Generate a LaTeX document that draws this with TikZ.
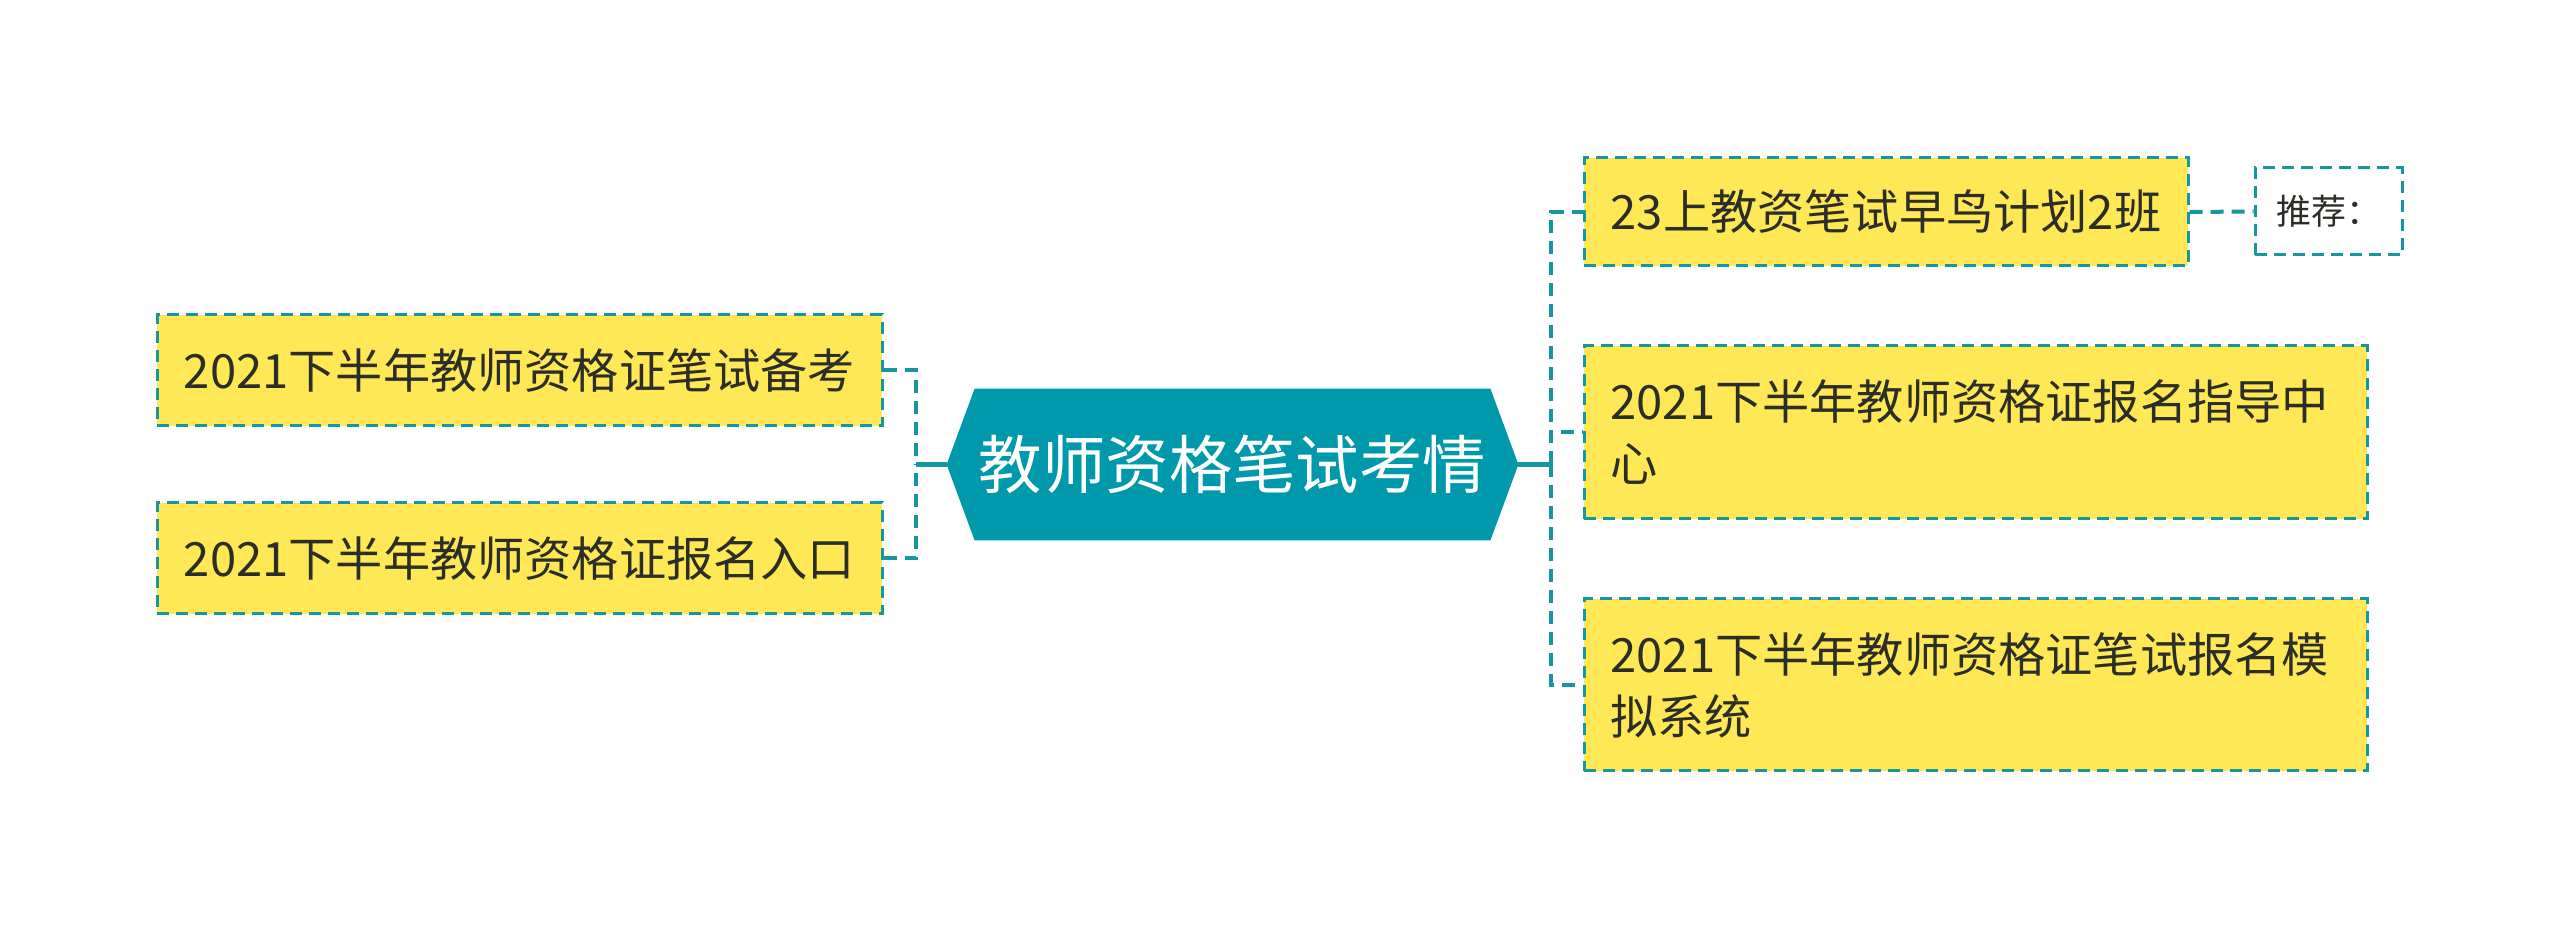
\documentclass[tikz,border=0pt]{standalone}
\usepackage{fontspec}
\setmainfont{Noto Sans CJK SC}
\usetikzlibrary{calc}
\pgfdeclarelayer{bg}
\pgfsetlayers{bg,main}
\definecolor{hexfill}{RGB}{0,153,172}
\definecolor{linecol}{RGB}{24,150,160}
\definecolor{boxfill}{RGB}{255,232,86}
\definecolor{txt}{RGB}{45,45,40}
\begin{document}
\begin{tikzpicture}[x=0.5pt,y=-0.5pt,
  box/.style={draw=linecol, fill=boxfill, line width=1.5pt, dash pattern=on 6pt off 3.5pt,
    inner sep=0pt, text=txt, font=\fontsize{23.6}{31}\selectfont},
  tagbox/.style={draw=linecol, fill=white, line width=1.5pt, dash pattern=on 6pt off 3.5pt,
    inner sep=0pt, text=txt, font=\fontsize{17.5}{22}\selectfont,
    minimum width=73.5pt, minimum height=43.5pt},
  hexnode/.style={inner sep=0pt, text=white, font=\fontsize{31.7}{36}\selectfont,
    minimum width=285.5pt, minimum height=75.5pt},
  dashline/.style={draw=linecol, line width=2pt, dash pattern=on 6.5pt off 4pt},
  solidline/.style={draw=linecol, line width=2.3pt}]
\useasboundingbox (0,0) rectangle (2560,929);

\node[hexnode] (hex) at (1232.5,464.5) {教师资格笔试考情};
\begin{pgfonlayer}{bg}
\fill[hexfill] (hex.west) -- ($(hex.north west)+(28,0)$) -- ($(hex.north east)+(-28,0)$)
  -- (hex.east) -- ($(hex.south east)+(-28,0)$) -- ($(hex.south west)+(28,0)$) -- cycle;
\end{pgfonlayer}

\node[box, minimum width=362.5pt, minimum height=55.5pt] (L1) at (519.5,370.5) {2021下半年教师资格证笔试备考};
\node[box, minimum width=362.5pt, minimum height=55.5pt] (L2) at (519.5,558.5) {2021下半年教师资格证报名入口};

\node[box, minimum width=302pt, minimum height=54pt] (A) at (1886,212) {23上教资笔试早鸟计划2班};
\node[box, minimum width=391.5pt, minimum height=86.5pt, text width=365pt, align=left] (B) at (1975.5,432.5) {2021下半年教师资格证报名指导中\\心};
\node[box, minimum width=391.5pt, minimum height=86pt, text width=365pt, align=left] (C) at (1975.5,685) {2021下半年教师资格证笔试报名模\\拟系统};
\node[tagbox] (T) at (2328.5,211.5) {推荐：};

\coordinate (lj) at (916,464.5);
\coordinate (rj) at (1551,464.5);

\draw[solidline] (hex.west) -- (lj);
\draw[solidline] (hex.east) -- (rj);
\draw[dashline] (L1.east) -| (lj);
\draw[dashline] (L2.east) -| (lj);
\draw[dashline] (rj) |- (A.west);
\draw[dashline] (rj) |- (B.west);
\draw[dashline] (rj) |- (C.west);
\draw[dashline] (A.east) -- (T.west);
\end{tikzpicture}
\end{document}
